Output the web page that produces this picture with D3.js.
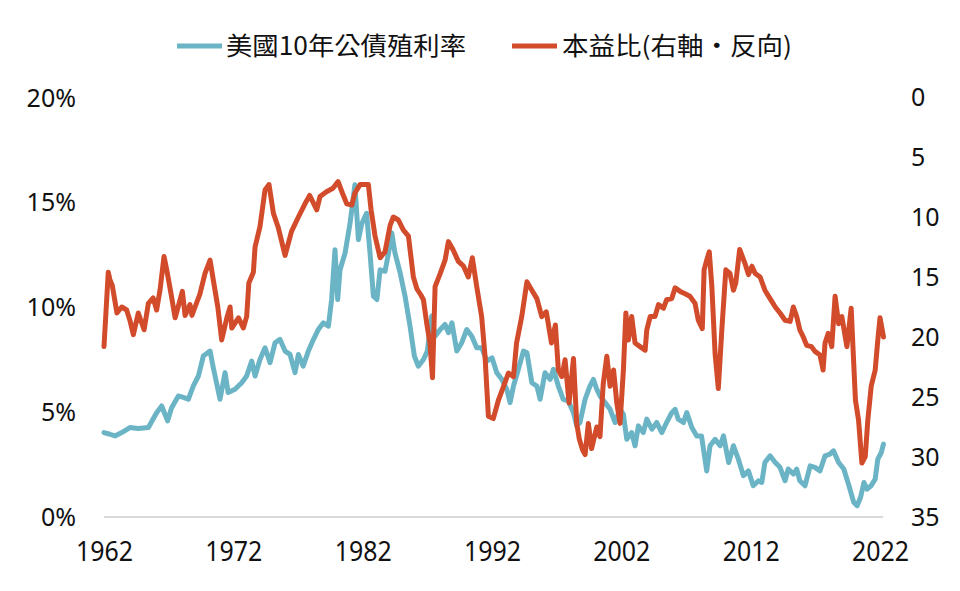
<!DOCTYPE html>
<html><head><meta charset="utf-8">
<script src="https://cdn.jsdelivr.net/npm/d3@7"></script>
<style>
html,body{margin:0;padding:0;background:#fff;}
svg{display:block;}
</style></head>
<body>
<svg id="chart" width="960" height="591"></svg>
<script>
// ---------- data ----------
const seriesNames = ["美國10年公債殖利率", "本益比(右軸・反向)"];
const xTickYears = [1962, 1972, 1982, 1992, 2002, 2012, 2022];
const leftTicks = [0, 5, 10, 15, 20];
const rightTicks = [0, 5, 10, 15, 20, 25, 30, 35];

const yieldDates = [1962.0,1962.46,1962.85,1963.37,1964.0,1964.65,1965.43,1966.07,1966.46,1966.92,1967.23,1967.75,1968.2,1968.52,1968.9,1969.3,1969.68,1970.2,1970.45,1970.97,1971.36,1971.6,1972.13,1972.65,1973.03,1973.42,1973.68,1974.06,1974.45,1974.84,1975.23,1975.6,1976.0,1976.38,1976.77,1977.03,1977.4,1977.8,1978.2,1978.57,1978.96,1979.35,1979.6,1979.86,1980.07,1980.25,1980.64,1981.02,1981.4,1981.67,1981.93,1982.3,1982.57,1982.83,1983.1,1983.35,1983.73,1984.0,1984.25,1984.5,1984.9,1985.3,1985.66,1986.0,1986.3,1986.7,1987.0,1987.34,1987.6,1988.0,1988.37,1988.63,1988.9,1989.28,1989.66,1990.05,1990.44,1990.82,1991.2,1991.6,1992.0,1992.37,1992.76,1993.14,1993.4,1993.66,1994.04,1994.43,1994.7,1995.08,1995.47,1995.72,1996.1,1996.5,1996.75,1997.13,1997.5,1997.9,1998.3,1998.55,1998.8,1999.2,1999.57,1999.84,2000.1,2000.35,2000.74,2001.13,2001.52,2001.9,2002.16,2002.42,2002.8,2003.06,2003.32,2003.7,2003.97,2004.36,2004.74,2005.13,2005.5,2005.9,2006.16,2006.4,2006.8,2007.06,2007.45,2007.83,2008.2,2008.6,2008.86,2009.25,2009.64,2009.9,2010.3,2010.67,2011.05,2011.44,2011.83,2012.2,2012.6,2012.86,2013.1,2013.5,2013.9,2014.27,2014.66,2014.9,2015.3,2015.56,2015.8,2016.2,2016.6,2016.97,2017.36,2017.75,2018.13,2018.4,2018.8,2019.2,2019.6,2019.97,2020.23,2020.5,2020.76,2021.0,2021.3,2021.63,2021.83,2022.1,2022.27];
const yieldValues = [4.03,3.95,3.87,4.03,4.27,4.22,4.27,4.98,5.3,4.59,5.22,5.78,5.7,5.62,6.25,6.73,7.68,7.92,7.13,5.62,6.89,5.94,6.1,6.41,6.73,7.44,6.73,7.52,8.08,7.37,8.32,8.48,7.92,7.76,6.89,7.76,7.2,7.92,8.48,8.95,9.27,9.11,10.38,12.76,10.38,11.8,12.6,14.0,15.86,13.24,14.0,14.5,12.6,10.54,10.38,11.8,11.73,12.6,13.56,12.6,11.65,10.46,9.11,7.68,7.2,7.52,7.92,9.59,8.63,8.95,9.19,8.8,9.27,7.92,8.32,8.95,8.63,8.08,8.08,7.44,7.6,6.89,6.57,6.1,5.46,6.25,7.05,7.92,7.84,6.41,6.25,5.62,6.89,6.57,7.05,6.25,5.62,5.54,4.98,4.35,4.51,5.62,6.25,6.57,6.1,5.78,5.46,5.14,4.51,5.14,4.9,3.71,4.03,3.4,4.35,4.03,4.67,4.19,4.51,4.03,4.51,4.98,5.14,4.67,4.51,4.98,4.27,3.87,3.87,2.2,3.4,3.71,3.4,3.87,2.6,3.4,2.76,1.97,2.2,1.49,1.73,1.65,2.6,2.92,2.6,2.37,1.73,2.29,2.05,2.29,1.73,1.49,2.44,2.37,2.2,2.92,3.0,3.16,2.6,2.29,1.49,0.7,0.54,0.94,1.65,1.33,1.49,1.81,2.76,3.08,3.48];

const peDates = [1962.0,1962.33,1962.45,1962.64,1963.0,1963.37,1963.75,1964.0,1964.27,1964.65,1965.1,1965.43,1965.8,1966.07,1966.33,1966.64,1966.85,1967.2,1967.5,1968.06,1968.27,1968.65,1968.8,1969.04,1969.42,1969.81,1970.2,1970.45,1970.8,1971.1,1971.5,1971.75,1971.88,1972.4,1972.77,1973.03,1973.2,1973.55,1973.68,1974.06,1974.45,1974.76,1975.1,1975.48,1976.0,1976.5,1977.03,1977.54,1977.9,1978.45,1978.7,1979.2,1979.7,1980.1,1980.43,1980.77,1981.16,1981.4,1981.8,1982.44,1982.65,1982.96,1983.35,1983.73,1984.12,1984.37,1984.76,1985.15,1985.54,1985.92,1986.2,1986.5,1986.7,1986.96,1987.2,1987.4,1987.6,1988.0,1988.37,1988.63,1989.0,1989.4,1989.8,1990.17,1990.48,1990.82,1991.2,1991.46,1991.72,1992.1,1992.5,1992.9,1993.27,1993.66,1993.9,1994.3,1994.7,1995.08,1995.47,1995.85,1996.2,1996.6,1996.9,1997.13,1997.4,1997.65,1997.96,1998.3,1998.55,1998.75,1999.0,1999.2,1999.45,1999.7,2000.1,2000.35,2000.6,2000.88,2001.13,2001.4,2001.65,2001.9,2002.16,2002.35,2002.55,2002.8,2003.06,2003.45,2003.84,2003.97,2004.23,2004.6,2004.87,2005.26,2005.5,2005.9,2006.16,2006.55,2006.93,2007.3,2007.7,2007.95,2008.26,2008.4,2008.6,2008.8,2009.0,2009.25,2009.5,2009.77,2010.08,2010.4,2010.67,2010.85,2011.15,2011.57,2011.83,2012.1,2012.35,2012.73,2013.1,2013.5,2013.9,2014.27,2014.66,2015.05,2015.3,2015.56,2015.8,2016.07,2016.33,2016.7,2016.97,2017.36,2017.6,2017.75,2018.0,2018.27,2018.53,2018.8,2019.05,2019.44,2019.77,2020.1,2020.34,2020.6,2020.86,2021.06,2021.32,2021.63,2021.83,2022.0,2022.27];
const peValues = [20.8,14.6,15.2,15.7,18.0,17.5,17.75,18.6,19.8,18.0,19.4,17.2,16.75,17.75,16.1,13.3,14.4,16.5,18.4,16.2,18.2,17.3,18.2,17.5,16.4,14.7,13.6,15.25,17.5,20.25,18.4,17.5,19.25,18.4,19.25,18.3,15.5,14.6,12.5,10.8,7.75,7.3,9.7,10.9,13.2,11.2,10.0,8.9,8.2,9.4,8.3,7.9,7.6,7.05,8.0,8.9,9.0,8.0,7.3,7.3,9.4,11.6,13.4,12.9,10.7,10.0,10.25,11.1,11.6,15.0,16.0,16.5,16.9,18.9,20.5,23.4,15.8,14.7,13.6,12.05,12.75,13.7,14.1,15.0,13.4,15.8,18.3,21.6,26.6,26.8,25.25,24.1,23.0,23.3,20.5,18.3,15.4,16.1,16.8,18.3,17.9,20.5,19.0,22.75,23.3,21.9,25.5,21.8,27.2,28.5,29.4,29.8,27.2,29.3,27.5,28.3,23.9,21.6,24.1,22.75,25.5,27.2,22.75,18.0,20.25,18.3,20.5,20.8,21.1,19.4,18.3,18.3,17.3,17.6,16.9,16.8,15.9,16.2,16.4,16.6,17.2,18.6,19.3,14.4,13.6,12.9,15.8,21.4,24.3,19.4,14.4,14.7,16.1,15.5,12.7,13.9,14.8,14.1,14.7,15.0,16.1,16.8,17.5,18.0,18.6,18.7,17.5,18.3,19.4,20.0,20.7,20.8,21.2,21.5,22.75,20.5,19.7,20.8,16.6,18.9,18.3,20.8,17.6,25.25,26.9,30.5,29.97,26.9,24.1,22.75,20.25,18.4,20.0];

// ---------- drawing ----------
const blue = "#6bb4c6", red = "#d24b2b";
const svg = d3.select("#chart");
const x = d3.scaleLinear().domain([1962, 2022]).range([104, 880]);
const yL = d3.scaleLinear().domain([0, 20]).range([517, 98]);
const yR = d3.scaleLinear().domain([0, 35]).range([97, 517]);

const numFont = "'Noto Sans', 'Open Sans', sans-serif";

// baseline
svg.append("line").attr("x1", 104).attr("x2", 883).attr("y1", yL(0)).attr("y2", yL(0))
  .attr("stroke", "#d9d9d9").attr("stroke-width", 2);

// left axis
const gL = svg.append("g").attr("transform", "translate(76,0)")
  .call(d3.axisLeft(yL).tickValues(leftTicks).tickFormat(d => d + "%").tickSize(0).tickPadding(0));
gL.select(".domain").remove();
gL.selectAll("text").attr("font-family", numFont).attr("font-size", 25).attr("fill", "#111");

// right axis
const gR = svg.append("g").attr("transform", "translate(911,0)")
  .call(d3.axisRight(yR).tickValues(rightTicks).tickSize(0).tickPadding(0));
gR.select(".domain").remove();
gR.selectAll("text").attr("font-family", numFont).attr("font-size", 25).attr("fill", "#111");

// bottom axis
const gB = svg.append("g").attr("transform", "translate(0,541)")
  .call(d3.axisBottom(x).tickValues(xTickYears).tickFormat(d3.format("d")).tickSize(0).tickPadding(0));
gB.select(".domain").remove();
gB.selectAll("text").attr("font-family", numFont).attr("font-size", 28).attr("fill", "#111")
  .attr("textLength", 57).attr("lengthAdjust", "spacingAndGlyphs");

// lines
const yieldData = yieldDates.map((d, i) => [d, yieldValues[i]]);
const peData = peDates.map((d, i) => [d, peValues[i]]);
svg.append("path").datum(yieldData)
  .attr("d", d3.line().x(d => x(d[0])).y(d => yL(d[1])))
  .attr("fill", "none").attr("stroke", blue).attr("stroke-width", 5)
  .attr("stroke-linejoin", "round").attr("stroke-linecap", "round");
svg.append("path").datum(peData)
  .attr("d", d3.line().x(d => x(d[0])).y(d => yR(d[1])))
  .attr("fill", "none").attr("stroke", red).attr("stroke-width", 5)
  .attr("stroke-linejoin", "round").attr("stroke-linecap", "round");

// legend
const legend = [
  {name: seriesNames[0], color: blue, x0: 177, tx: 226, w: 240},
  {name: seriesNames[1], color: red, x0: 512, tx: 562, w: 230}
];
const lg = svg.append("g");
legend.forEach(l => {
  lg.append("line").attr("x1", l.x0).attr("x2", l.x0 + 45).attr("y1", 46).attr("y2", 46)
    .attr("stroke", l.color).attr("stroke-width", 5);
  lg.append("text").attr("x", l.tx).attr("y", 46).attr("dy", "0.36em")
    .attr("font-family", "'Noto Sans CJK TC', 'Noto Sans CJK SC', sans-serif")
    .attr("font-size", 25).attr("fill", "#111")
    .attr("textLength", l.w).attr("lengthAdjust", "spacingAndGlyphs")
    .text(l.name);
});
</script>
</body></html>
